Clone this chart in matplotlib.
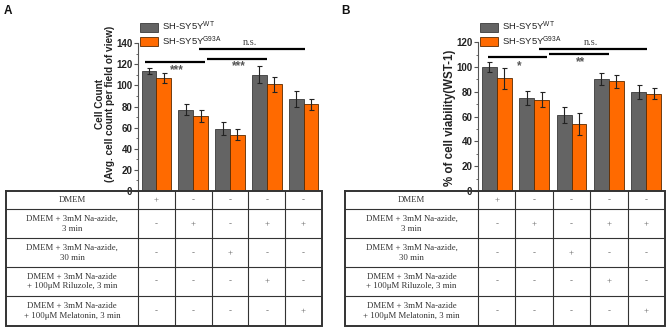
import matplotlib
matplotlib.use("Agg")
import matplotlib.pyplot as plt
from matplotlib.patches import Patch

plt.rcParams['font.family'] = ['Liberation Sans', 'DejaVu Sans']
plt.rcParams['mathtext.fontset'] = 'custom'
plt.rcParams['mathtext.rm'] = 'Liberation Sans'

# ---------------- data ----------------
groups = [1, 2, 3, 4, 5]
series_labels = [r"SH-SY5Y$^{\mathrm{WT}}$", r"SH-SY5Y$^{\mathrm{G93A}}$"]

a_wt = [114, 77, 59, 110, 87]
a_wt_err = [3, 5, 6, 8, 7.5]
a_mut = [107, 71, 53.5, 101, 82]
a_mut_err = [5, 6, 5.5, 7, 5.5]

b_wt = [100, 75, 61.5, 90.5, 80]
b_wt_err = [3.8, 6, 6.4, 5, 5.7]
b_mut = [91, 73.5, 54, 88.5, 78.5]
b_mut_err = [8.4, 6, 8.7, 5, 4.3]

a_sig = [(0.70, 2.32, 122.5, "***"), (2.38, 4.0, 125.5, "***"), (2.16, 5.03, 135, "n.s.")]
b_sig = [(0.77, 2.34, 107.8, "*"), (2.39, 3.99, 110.5, "**"), (2.12, 5.01, 114.6, "n.s.")]

row_labels = ["DMEM",
              "DMEM + 3mM Na-azide,\n3 min",
              "DMEM + 3mM Na-azide,\n30 min",
              "DMEM + 3mM Na-azide\n+ 100\u03bcM Riluzole, 3 min",
              "DMEM + 3mM Na-azide\n+ 100\u03bcM Melatonin, 3 min"]
marks = [["+", "-", "-", "-", "-"],
         ["-", "+", "-", "+", "+"],
         ["-", "-", "+", "-", "-"],
         ["-", "-", "-", "+", "-"],
         ["-", "-", "-", "-", "+"]]

c_wt = "#646464"
c_mut = "#FF6A00"

W, H = 666, 330
fig = plt.figure(figsize=(W / 100, H / 100), dpi=100)


def px_axes(l, t, r, b):
    return fig.add_axes([l / W, 1 - b / H, (r - l) / W, (b - t) / H])


def draw_panel(l, r, ymax_data, ymax_tick, wt, wte, mu, mue, sig, ylabel, ylabel_size,
               ylabel_right_px, ylabel_center_px, letter, letter_x, tbl_left):
    ax = px_axes(l, 20, r, 191)
    bw = 0.4
    xs = groups
    ax.bar([x - bw / 2 for x in xs], wt, bw, color=c_wt, edgecolor="#3a3a3a", linewidth=0.6,
           yerr=wte, error_kw=dict(ecolor="#222222", elinewidth=0.8, capsize=1.8, capthick=0.8))
    ax.bar([x + bw / 2 for x in xs], mu, bw, color=c_mut, edgecolor="#5a2a00", linewidth=0.6,
           yerr=mue, error_kw=dict(ecolor="#222222", elinewidth=0.8, capsize=1.8, capthick=0.8))
    ax.set_xlim(0.5, 5.5)
    ax.set_ylim(0, ymax_data)
    for s in ["top", "right", "bottom"]:
        ax.spines[s].set_visible(False)
    ax.spines["left"].set_bounds(0, ymax_tick)
    ax.spines["left"].set_color("#555555")
    ax.spines["left"].set_linewidth(0.8)
    ax.set_xticks([])
    ax.set_yticks([v for v in range(0, ymax_tick + 1, 20)])
    ax.set_yticks([v for v in range(10, ymax_tick, 20)], minor=True)
    ax.tick_params(axis="y", which="major", length=3, width=0.8, color="#555555", pad=1)
    ax.tick_params(axis="y", which="minor", length=1.8, width=0.6, color="#555555")
    for t in ax.get_yticklabels():
        t.set_fontweight("bold")
        t.set_fontsize(7)
        t.set_color("#222222")
    ax.set_ylabel(ylabel, fontsize=ylabel_size, fontweight="bold", color="#222222",
                  linespacing=1.0)
    ax.yaxis.set_label_coords((ylabel_right_px - l) / (r - l), (191 - ylabel_center_px) / 171)
    for x0, x1, y, txt in sig:
        ax.plot([x0, x1], [y, y], color="black", lw=1.6, solid_capstyle="butt", clip_on=False)
        if txt == "n.s.":
            ax.text((x0 + x1) / 2 - 0.05, y + 1.5, txt, ha="center", va="bottom", fontsize=7.5,
                    family="Liberation Serif", color="#444444")
        else:
            ax.text((x0 + x1) / 2 + 0.05, y - 2, txt, ha="center", va="top", fontsize=8.5,
                    color="#555555", fontweight="bold")
    handles = [Patch(facecolor=c_wt, edgecolor="#3a3a3a", linewidth=0.6),
               Patch(facecolor=c_mut, edgecolor="#5a2a00", linewidth=0.6)]
    leg = ax.legend(handles, series_labels, loc="upper left",
                    bbox_to_anchor=((l + 2) / W, 1 - 20 / H), bbox_transform=fig.transFigure,
                    frameon=False, prop={"size": 6.8},
                    handlelength=1.9, handleheight=1.05,
                    handletextpad=0.4, labelspacing=0.12, borderpad=0, borderaxespad=0)
    for t in leg.get_texts():
        t.set_color("#222222")

    # table
    tb = px_axes(tbl_left, 191, r, 326)
    tb.set_xlim(tbl_left, r)
    tb.set_ylim(326, 191)
    tb.axis("off")
    row_edges = [191, 209.3, 238.3, 267.3, 296, 326]
    col_w = (r - l) / 5
    col_edges = [l + i * col_w for i in range(6)]
    lc = "#333333"
    tb.plot([tbl_left, r, r, tbl_left, tbl_left], [191, 191, 326, 326, 191], color=lc, lw=1.4,
            clip_on=False, solid_joinstyle="miter")
    for y in row_edges[1:-1]:
        tb.plot([tbl_left, r], [y, y], color=lc, lw=0.8)
    for x in col_edges[:-1]:
        tb.plot([x, x], [191, 326], color=lc, lw=0.8)
    for i, lab in enumerate(row_labels):
        yc = (row_edges[i] + row_edges[i + 1]) / 2
        tb.text((tbl_left + l) / 2, yc, lab, ha="center", va="center", fontsize=6.3,
                family="Liberation Serif", color="#333333", linespacing=1.25)
        for j, m in enumerate(marks[i]):
            xc = (col_edges[j] + col_edges[j + 1]) / 2
            tb.text(xc, yc, m, ha="center", va="center", fontsize=6.5,
                    family="Liberation Serif", color="#666666")

    fig.text(letter_x / W, 1 - 11 / H, letter, fontsize=8.5, fontweight="bold", va="center",
             ha="left", color="#111111")
    return ax


draw_panel(138, 322, 162, 140, a_wt, a_wt_err, a_mut, a_mut_err, a_sig,
           "Cell Count\n(Avg. cell count per field of view)", 7.2, 115, 104, "A", 4, 6)
draw_panel(478, 665, 138, 120, b_wt, b_wt_err, b_mut, b_mut_err, b_sig,
           "% of cell viability(WST-1)", 8.3, 456, 118, "B", 341, 345)

fig.savefig("out.png", dpi=100)
